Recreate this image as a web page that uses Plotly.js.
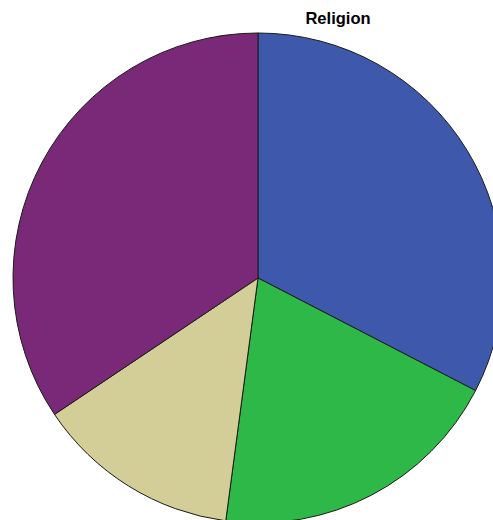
<!DOCTYPE html>
<html>
<head>
<meta charset="utf-8">
<script src="https://cdn.plot.ly/plotly-3.0.1.min.js"></script>
<style>
html,body{margin:0;padding:0;overflow:hidden;background:#fff;width:493px;height:520px;}
#chart{position:absolute;left:0;top:0;width:600px;height:600px;}
</style>
</head>
<body>
<div id="chart"></div>
<script>
const categories = ["Christian", "Muslim", "Other", "None"];
const percentages = [32.6, 19.5, 13.5, 34.4];
const sliceColors = ["#3E58AC", "#2EB848", "#D3CE97", "#7A2878"];

const trace = {
  type: "pie",
  labels: categories,
  values: percentages,
  sort: false,
  direction: "clockwise",
  rotation: 0,
  textinfo: "none",
  hoverinfo: "label+percent",
  marker: { colors: sliceColors, line: { color: "#1a1a1a", width: 1 } },
  domain: { x: [0, 1], y: [0, 1] }
};

const layout = {
  width: 600,
  height: 600,
  margin: { l: 13, t: 33, r: 97, b: 77 },
  showlegend: false,
  paper_bgcolor: "#ffffff",
  title: {
    text: "<b>Religion</b>",
    font: { family: "Liberation Sans, Arial, sans-serif", size: 16.5, color: "#000" },
    xref: "container", yref: "container",
    x: 338 / 600, xanchor: "center",
    y: 1 - 18 / 600, yanchor: "middle"
  }
};

Plotly.newPlot("chart", [trace], layout, { displayModeBar: false, staticPlot: true });
</script>
</body>
</html>
